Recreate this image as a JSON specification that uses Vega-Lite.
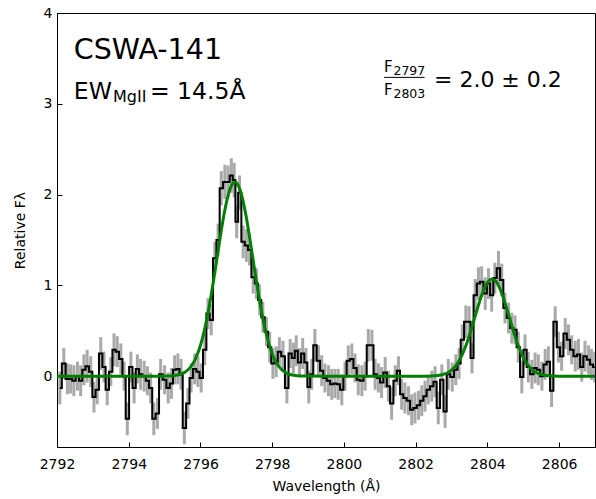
{
  "$schema": "https://vega.github.io/schema/vega-lite/v6.json",
  "width": 538,
  "height": 434,
  "autosize": {"type": "none"},
  "padding": {"left": 57, "top": 13, "right": 1, "bottom": 52},
  "background": "white",
  "config": {
    "font": "DejaVu Sans",
    "view": {"stroke": "black", "strokeWidth": 1},
    "axis": {
      "domainColor": "black",
      "tickColor": "black",
      "labelColor": "black",
      "titleColor": "black",
      "grid": false,
      "tickSize": -5,
      "labelFontSize": 14,
      "titleFontSize": 14,
      "titleFontWeight": "normal",
      "labelFont": "DejaVu Sans",
      "titleFont": "DejaVu Sans",
      "labelFlush": false,
      "labelOverlap": false
    }
  },
  "datasets": {
    "spectrum": [
      {"wave": 2792.08, "flux": -0.13, "err": 0.18},
      {"wave": 2792.19, "flux": 0.14, "err": 0.17},
      {"wave": 2792.29, "flux": -0.03, "err": 0.17},
      {"wave": 2792.38, "flux": -0.03, "err": 0.16},
      {"wave": 2792.47, "flux": -0.05, "err": 0.17},
      {"wave": 2792.57, "flux": 0.0, "err": 0.16},
      {"wave": 2792.66, "flux": -0.05, "err": 0.17},
      {"wave": 2792.75, "flux": 0.07, "err": 0.17},
      {"wave": 2792.84, "flux": 0.11, "err": 0.18},
      {"wave": 2792.94, "flux": 0.05, "err": 0.17},
      {"wave": 2793.03, "flux": -0.23, "err": 0.17},
      {"wave": 2793.12, "flux": -0.15, "err": 0.16},
      {"wave": 2793.22, "flux": 0.25, "err": 0.18},
      {"wave": 2793.31, "flux": 0.10, "err": 0.17},
      {"wave": 2793.40, "flux": -0.15, "err": 0.17},
      {"wave": 2793.50, "flux": 0.05, "err": 0.16},
      {"wave": 2793.59, "flux": 0.29, "err": 0.18},
      {"wave": 2793.68, "flux": 0.27, "err": 0.17},
      {"wave": 2793.78, "flux": 0.19, "err": 0.17},
      {"wave": 2793.87, "flux": 0.0, "err": 0.16},
      {"wave": 2793.96, "flux": -0.47, "err": 0.18},
      {"wave": 2794.06, "flux": 0.10, "err": 0.17},
      {"wave": 2794.15, "flux": -0.13, "err": 0.17},
      {"wave": 2794.24, "flux": 0.08, "err": 0.16},
      {"wave": 2794.33, "flux": 0.02, "err": 0.17},
      {"wave": 2794.43, "flux": 0.0, "err": 0.17},
      {"wave": 2794.52, "flux": -0.05, "err": 0.16},
      {"wave": 2794.61, "flux": -0.13, "err": 0.17},
      {"wave": 2794.70, "flux": -0.47, "err": 0.18},
      {"wave": 2794.80, "flux": -0.41, "err": 0.17},
      {"wave": 2794.89, "flux": 0.02, "err": 0.17},
      {"wave": 2795.00, "flux": -0.04, "err": 0.16},
      {"wave": 2795.10, "flux": -0.13, "err": 0.17},
      {"wave": 2795.19, "flux": -0.08, "err": 0.17},
      {"wave": 2795.28, "flux": 0.07, "err": 0.16},
      {"wave": 2795.37, "flux": 0.08, "err": 0.17},
      {"wave": 2795.46, "flux": 0.02, "err": 0.17},
      {"wave": 2795.55, "flux": -0.57, "err": 0.18},
      {"wave": 2795.65, "flux": -0.30, "err": 0.17},
      {"wave": 2795.74, "flux": -0.02, "err": 0.16},
      {"wave": 2795.84, "flux": 0.08, "err": 0.17},
      {"wave": 2795.93, "flux": 0.05, "err": 0.17},
      {"wave": 2796.02, "flux": -0.02, "err": 0.16},
      {"wave": 2796.12, "flux": 0.29, "err": 0.17},
      {"wave": 2796.21, "flux": 0.69, "err": 0.17},
      {"wave": 2796.30, "flux": 0.62, "err": 0.17},
      {"wave": 2796.40, "flux": 1.30, "err": 0.18},
      {"wave": 2796.49, "flux": 1.50, "err": 0.18},
      {"wave": 2796.58, "flux": 2.07, "err": 0.19},
      {"wave": 2796.68, "flux": 2.14, "err": 0.19},
      {"wave": 2796.77, "flux": 2.14, "err": 0.18},
      {"wave": 2796.86, "flux": 2.21, "err": 0.19},
      {"wave": 2796.94, "flux": 2.16, "err": 0.19},
      {"wave": 2797.01, "flux": 1.70, "err": 0.18},
      {"wave": 2797.09, "flux": 2.02, "err": 0.19},
      {"wave": 2797.19, "flux": 1.48, "err": 0.18},
      {"wave": 2797.28, "flux": 1.44, "err": 0.18},
      {"wave": 2797.37, "flux": 1.39, "err": 0.17},
      {"wave": 2797.47, "flux": 1.09, "err": 0.18},
      {"wave": 2797.56, "flux": 1.02, "err": 0.17},
      {"wave": 2797.65, "flux": 0.84, "err": 0.17},
      {"wave": 2797.74, "flux": 0.65, "err": 0.17},
      {"wave": 2797.84, "flux": 0.49, "err": 0.16},
      {"wave": 2797.93, "flux": 0.32, "err": 0.17},
      {"wave": 2798.02, "flux": 0.14, "err": 0.17},
      {"wave": 2798.11, "flux": 0.16, "err": 0.17},
      {"wave": 2798.20, "flux": 0.27, "err": 0.16},
      {"wave": 2798.30, "flux": 0.22, "err": 0.17},
      {"wave": 2798.41, "flux": -0.13, "err": 0.17},
      {"wave": 2798.50, "flux": 0.25, "err": 0.16},
      {"wave": 2798.59, "flux": 0.20, "err": 0.17},
      {"wave": 2798.67, "flux": 0.28, "err": 0.17},
      {"wave": 2798.76, "flux": 0.15, "err": 0.16},
      {"wave": 2798.85, "flux": 0.25, "err": 0.17},
      {"wave": 2798.94, "flux": 0.15, "err": 0.16},
      {"wave": 2799.02, "flux": -0.12, "err": 0.18},
      {"wave": 2799.10, "flux": 0.02, "err": 0.17},
      {"wave": 2799.19, "flux": 0.34, "err": 0.18},
      {"wave": 2799.29, "flux": 0.17, "err": 0.17},
      {"wave": 2799.38, "flux": 0.06, "err": 0.17},
      {"wave": 2799.47, "flux": -0.02, "err": 0.16},
      {"wave": 2799.57, "flux": -0.05, "err": 0.17},
      {"wave": 2799.66, "flux": -0.09, "err": 0.17},
      {"wave": 2799.75, "flux": -0.08, "err": 0.16},
      {"wave": 2799.84, "flux": -0.09, "err": 0.17},
      {"wave": 2799.94, "flux": -0.15, "err": 0.17},
      {"wave": 2800.03, "flux": 0.0, "err": 0.16},
      {"wave": 2800.12, "flux": 0.17, "err": 0.17},
      {"wave": 2800.22, "flux": 0.19, "err": 0.17},
      {"wave": 2800.31, "flux": 0.09, "err": 0.16},
      {"wave": 2800.40, "flux": -0.04, "err": 0.17},
      {"wave": 2800.50, "flux": -0.05, "err": 0.17},
      {"wave": 2800.59, "flux": 0.0, "err": 0.16},
      {"wave": 2800.68, "flux": 0.34, "err": 0.18},
      {"wave": 2800.78, "flux": 0.34, "err": 0.17},
      {"wave": 2800.87, "flux": 0.02, "err": 0.17},
      {"wave": 2800.96, "flux": -0.02, "err": 0.16},
      {"wave": 2801.05, "flux": -0.07, "err": 0.17},
      {"wave": 2801.15, "flux": 0.04, "err": 0.17},
      {"wave": 2801.24, "flux": -0.11, "err": 0.17},
      {"wave": 2801.33, "flux": -0.30, "err": 0.18},
      {"wave": 2801.43, "flux": -0.05, "err": 0.17},
      {"wave": 2801.52, "flux": 0.06, "err": 0.16},
      {"wave": 2801.61, "flux": -0.20, "err": 0.17},
      {"wave": 2801.70, "flux": -0.24, "err": 0.17},
      {"wave": 2801.80, "flux": -0.27, "err": 0.16},
      {"wave": 2801.89, "flux": -0.37, "err": 0.17},
      {"wave": 2801.98, "flux": -0.35, "err": 0.17},
      {"wave": 2802.08, "flux": -0.32, "err": 0.16},
      {"wave": 2802.17, "flux": -0.27, "err": 0.17},
      {"wave": 2802.26, "flux": -0.22, "err": 0.17},
      {"wave": 2802.35, "flux": -0.15, "err": 0.16},
      {"wave": 2802.45, "flux": -0.11, "err": 0.17},
      {"wave": 2802.54, "flux": -0.06, "err": 0.17},
      {"wave": 2802.63, "flux": -0.35, "err": 0.18},
      {"wave": 2802.73, "flux": -0.04, "err": 0.17},
      {"wave": 2802.82, "flux": -0.39, "err": 0.18},
      {"wave": 2802.91, "flux": 0.02, "err": 0.17},
      {"wave": 2803.02, "flux": -0.01, "err": 0.16},
      {"wave": 2803.12, "flux": 0.07, "err": 0.17},
      {"wave": 2803.21, "flux": 0.14, "err": 0.17},
      {"wave": 2803.30, "flux": 0.40, "err": 0.17},
      {"wave": 2803.40, "flux": 0.60, "err": 0.18},
      {"wave": 2803.49, "flux": 0.60, "err": 0.17},
      {"wave": 2803.57, "flux": 0.20, "err": 0.17},
      {"wave": 2803.66, "flux": 0.89, "err": 0.18},
      {"wave": 2803.75, "flux": 1.02, "err": 0.18},
      {"wave": 2803.84, "flux": 1.04, "err": 0.17},
      {"wave": 2803.94, "flux": 0.91, "err": 0.18},
      {"wave": 2804.03, "flux": 1.02, "err": 0.17},
      {"wave": 2804.12, "flux": 0.89, "err": 0.18},
      {"wave": 2804.21, "flux": 1.08, "err": 0.17},
      {"wave": 2804.31, "flux": 1.19, "err": 0.19},
      {"wave": 2804.40, "flux": 1.06, "err": 0.18},
      {"wave": 2804.49, "flux": 0.75, "err": 0.17},
      {"wave": 2804.59, "flux": 0.64, "err": 0.17},
      {"wave": 2804.68, "flux": 0.53, "err": 0.17},
      {"wave": 2804.77, "flux": 0.51, "err": 0.16},
      {"wave": 2804.86, "flux": 0.32, "err": 0.17},
      {"wave": 2804.96, "flux": -0.01, "err": 0.18},
      {"wave": 2805.05, "flux": 0.29, "err": 0.17},
      {"wave": 2805.14, "flux": 0.10, "err": 0.17},
      {"wave": 2805.24, "flux": 0.02, "err": 0.16},
      {"wave": 2805.33, "flux": 0.09, "err": 0.17},
      {"wave": 2805.42, "flux": 0.07, "err": 0.17},
      {"wave": 2805.52, "flux": 0.0, "err": 0.16},
      {"wave": 2805.61, "flux": 0.13, "err": 0.17},
      {"wave": 2805.70, "flux": 0.16, "err": 0.17},
      {"wave": 2805.79, "flux": -0.16, "err": 0.18},
      {"wave": 2805.89, "flux": 0.60, "err": 0.17},
      {"wave": 2805.98, "flux": 0.32, "err": 0.17},
      {"wave": 2806.07, "flux": 0.22, "err": 0.16},
      {"wave": 2806.17, "flux": 0.47, "err": 0.17},
      {"wave": 2806.26, "flux": 0.40, "err": 0.17},
      {"wave": 2806.35, "flux": 0.29, "err": 0.16},
      {"wave": 2806.45, "flux": 0.22, "err": 0.17},
      {"wave": 2806.54, "flux": 0.24, "err": 0.17},
      {"wave": 2806.63, "flux": 0.10, "err": 0.16},
      {"wave": 2806.72, "flux": 0.22, "err": 0.17},
      {"wave": 2806.82, "flux": 0.18, "err": 0.16},
      {"wave": 2806.90, "flux": 0.13, "err": 0.17},
      {"wave": 2806.99, "flux": 0.10, "err": 0.17}
    ],
    "fit": [
      {"wave": 2792.0, "model": 0.0},
      {"wave": 2794.5, "model": 0.0},
      {"wave": 2794.96, "model": 0.001},
      {"wave": 2795.16, "model": 0.003},
      {"wave": 2795.36, "model": 0.013},
      {"wave": 2795.46, "model": 0.024},
      {"wave": 2795.56, "model": 0.042},
      {"wave": 2795.66, "model": 0.073},
      {"wave": 2795.76, "model": 0.120},
      {"wave": 2795.86, "model": 0.190},
      {"wave": 2795.96, "model": 0.290},
      {"wave": 2796.06, "model": 0.424},
      {"wave": 2796.16, "model": 0.595},
      {"wave": 2796.26, "model": 0.803},
      {"wave": 2796.36, "model": 1.042},
      {"wave": 2796.46, "model": 1.298},
      {"wave": 2796.56, "model": 1.554},
      {"wave": 2796.66, "model": 1.788},
      {"wave": 2796.76, "model": 1.975},
      {"wave": 2796.86, "model": 2.097},
      {"wave": 2796.96, "model": 2.140},
      {"wave": 2797.06, "model": 2.097},
      {"wave": 2797.16, "model": 1.975},
      {"wave": 2797.26, "model": 1.788},
      {"wave": 2797.36, "model": 1.554},
      {"wave": 2797.46, "model": 1.298},
      {"wave": 2797.56, "model": 1.042},
      {"wave": 2797.66, "model": 0.803},
      {"wave": 2797.76, "model": 0.595},
      {"wave": 2797.86, "model": 0.424},
      {"wave": 2797.96, "model": 0.290},
      {"wave": 2798.06, "model": 0.190},
      {"wave": 2798.16, "model": 0.120},
      {"wave": 2798.26, "model": 0.073},
      {"wave": 2798.36, "model": 0.042},
      {"wave": 2798.46, "model": 0.024},
      {"wave": 2798.56, "model": 0.013},
      {"wave": 2798.76, "model": 0.003},
      {"wave": 2798.96, "model": 0.001},
      {"wave": 2799.5, "model": 0.0},
      {"wave": 2802.13, "model": 0.0},
      {"wave": 2802.43, "model": 0.002},
      {"wave": 2802.63, "model": 0.008},
      {"wave": 2802.73, "model": 0.015},
      {"wave": 2802.83, "model": 0.027},
      {"wave": 2802.93, "model": 0.047},
      {"wave": 2803.03, "model": 0.077},
      {"wave": 2803.13, "model": 0.122},
      {"wave": 2803.23, "model": 0.184},
      {"wave": 2803.33, "model": 0.267},
      {"wave": 2803.43, "model": 0.369},
      {"wave": 2803.53, "model": 0.490},
      {"wave": 2803.63, "model": 0.622},
      {"wave": 2803.73, "model": 0.756},
      {"wave": 2803.83, "model": 0.880},
      {"wave": 2803.93, "model": 0.981},
      {"wave": 2804.03, "model": 1.047},
      {"wave": 2804.13, "model": 1.070},
      {"wave": 2804.23, "model": 1.047},
      {"wave": 2804.33, "model": 0.981},
      {"wave": 2804.43, "model": 0.880},
      {"wave": 2804.53, "model": 0.756},
      {"wave": 2804.63, "model": 0.622},
      {"wave": 2804.73, "model": 0.490},
      {"wave": 2804.83, "model": 0.369},
      {"wave": 2804.93, "model": 0.267},
      {"wave": 2805.03, "model": 0.184},
      {"wave": 2805.13, "model": 0.122},
      {"wave": 2805.23, "model": 0.077},
      {"wave": 2805.33, "model": 0.047},
      {"wave": 2805.43, "model": 0.027},
      {"wave": 2805.53, "model": 0.015},
      {"wave": 2805.63, "model": 0.008},
      {"wave": 2805.83, "model": 0.002},
      {"wave": 2806.13, "model": 0.0},
      {"wave": 2807.0, "model": 0.0}
    ]
  },
  "layer": [
    {
      "data": {"name": "spectrum"},
      "mark": {"type": "errorbar", "color": "#a9a9a9", "thickness": 3, "clip": true},
      "encoding": {
        "x": {
          "field": "wave", "type": "quantitative",
          "scale": {"domain": [2792, 2807], "nice": false, "zero": false},
          "axis": {
            "values": [2792, 2794, 2796, 2798, 2800, 2802, 2804, 2806],
            "format": "d",
            "title": "Wavelength (Å)",
            "labelAlign": "center",
            "labelBaseline": "top",
            "labelPadding": 15,
            "titlePadding": 8
          }
        },
        "y": {
          "field": "flux", "type": "quantitative",
          "scale": {"domain": [-0.78, 4], "nice": false, "zero": false},
          "axis": {
            "values": [0, 1, 2, 3, 4],
            "format": "d",
            "title": "Relative Fλ",
            "labelAlign": "right",
            "labelBaseline": "middle",
            "labelPadding": 10,
            "titlePadding": 16
          }
        },
        "yError": {"field": "err"}
      }
    },
    {
      "data": {"name": "spectrum"},
      "mark": {"type": "line", "interpolate": "step", "color": "black", "strokeWidth": 2, "clip": true},
      "encoding": {
        "x": {"field": "wave", "type": "quantitative"},
        "y": {"field": "flux", "type": "quantitative"}
      }
    },
    {
      "data": {"name": "fit"},
      "mark": {"type": "line", "interpolate": "monotone", "color": "#008000", "strokeWidth": 3, "clip": true},
      "encoding": {
        "x": {"field": "wave", "type": "quantitative"},
        "y": {"field": "model", "type": "quantitative"}
      }
    },
    {
      "data": {"values": [{}]},
      "mark": {"type": "text", "align": "left", "baseline": "alphabetic", "fontSize": 28.5, "color": "black"},
      "encoding": {
        "x": {"datum": 2792.47, "type": "quantitative"},
        "y": {"datum": 3.49, "type": "quantitative"},
        "text": {"value": "CSWA-141"}
      }
    },
    {
      "data": {"values": [{}]},
      "mark": {"type": "text", "align": "left", "baseline": "alphabetic", "fontSize": 23.5, "color": "black"},
      "encoding": {
        "x": {"datum": 2792.47, "type": "quantitative"},
        "y": {"datum": 3.05, "type": "quantitative"},
        "text": {"value": "EW"}
      }
    },
    {
      "data": {"values": [{}]},
      "mark": {"type": "text", "align": "left", "baseline": "alphabetic", "fontSize": 16, "color": "black"},
      "encoding": {
        "x": {"datum": 2793.56, "type": "quantitative"},
        "y": {"datum": 3.02, "type": "quantitative"},
        "text": {"value": "MgII"}
      }
    },
    {
      "data": {"values": [{}]},
      "mark": {"type": "text", "align": "left", "baseline": "alphabetic", "fontSize": 23.5, "color": "black"},
      "encoding": {
        "x": {"datum": 2794.59, "type": "quantitative"},
        "y": {"datum": 3.05, "type": "quantitative"},
        "text": {"value": "= 14.5Å"}
      }
    },
    {
      "data": {"values": [{}]},
      "mark": {"type": "text", "align": "left", "baseline": "alphabetic", "fontSize": 15, "color": "black"},
      "encoding": {
        "x": {"datum": 2801.12, "type": "quantitative"},
        "y": {"datum": 3.353, "type": "quantitative"},
        "text": {"value": "F"}
      }
    },
    {
      "data": {"values": [{}]},
      "mark": {"type": "text", "align": "left", "baseline": "alphabetic", "fontSize": 12.5, "color": "black"},
      "encoding": {
        "x": {"datum": 2801.38, "type": "quantitative"},
        "y": {"datum": 3.32, "type": "quantitative"},
        "text": {"value": "2797"}
      }
    },
    {
      "data": {"values": [{}]},
      "mark": {"type": "rule", "color": "black", "strokeWidth": 1},
      "encoding": {
        "x": {"datum": 2801.12, "type": "quantitative"},
        "x2": {"datum": 2802.25},
        "y": {"datum": 3.291, "type": "quantitative"}
      }
    },
    {
      "data": {"values": [{}]},
      "mark": {"type": "text", "align": "left", "baseline": "alphabetic", "fontSize": 15, "color": "black"},
      "encoding": {
        "x": {"datum": 2801.12, "type": "quantitative"},
        "y": {"datum": 3.096, "type": "quantitative"},
        "text": {"value": "F"}
      }
    },
    {
      "data": {"values": [{}]},
      "mark": {"type": "text", "align": "left", "baseline": "alphabetic", "fontSize": 12.5, "color": "black"},
      "encoding": {
        "x": {"datum": 2801.38, "type": "quantitative"},
        "y": {"datum": 3.063, "type": "quantitative"},
        "text": {"value": "2803"}
      }
    },
    {
      "data": {"values": [{}]},
      "mark": {"type": "text", "align": "left", "baseline": "alphabetic", "fontSize": 22, "color": "black"},
      "encoding": {
        "x": {"datum": 2802.51, "type": "quantitative"},
        "y": {"datum": 3.188, "type": "quantitative"},
        "text": {"value": "= 2.0 ± 0.2"}
      }
    }
  ]
}
